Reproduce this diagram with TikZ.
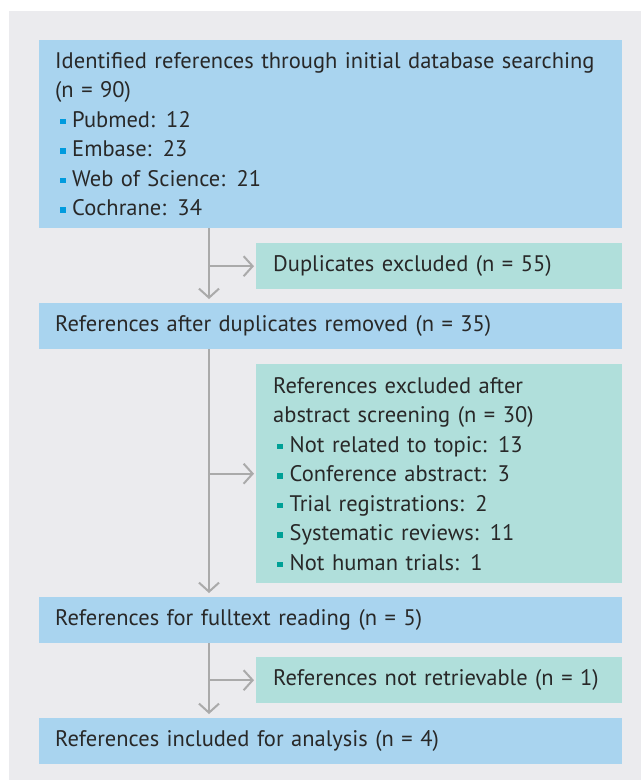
\documentclass[tikz,border=0pt]{standalone}
\usepackage{fontspec}
\setmainfont{PT Sans}[WordSpace={0.72,0.5,0.5}]
\usetikzlibrary{arrows.meta}
\definecolor{bgray}{RGB}{235,235,238}
\definecolor{boxblue}{RGB}{169,212,239}
\definecolor{boxteal}{RGB}{176,223,219}
\definecolor{arrgray}{RGB}{170,170,170}
\definecolor{bulblue}{RGB}{0,155,222}
\definecolor{bulteal}{RGB}{0,160,150}
\definecolor{txt}{RGB}{40,40,40}
\newcommand{\bulb}{\hspace*{5pt}{\color{bulblue}\rule[3pt]{5.5pt}{5.5pt}}\hspace{6.5pt}}
\newcommand{\bult}{\hspace*{4pt}{\color{bulteal}\rule[3pt]{5.5pt}{5.5pt}}\hspace{7pt}}
\newcommand{\boxfont}{\fontsize{22.5}{29.5}\selectfont}
\begin{document}
\begin{tikzpicture}[x=1pt,y=1pt,
  every node/.style={font=\boxfont, text=txt},
  mainbox/.style={anchor=north west, fill=boxblue, inner xsep=16pt, inner ysep=0pt,
    minimum width=583pt, text width=551pt, align=left},
  sidebox/.style={anchor=north west, fill=boxteal, inner xsep=17pt, inner ysep=0pt,
    minimum width=366pt, text width=332pt, align=left},
  arr/.style={draw=arrgray, line width=2pt, -{Straight Barb[length=9pt,width=20pt]}}]
\useasboundingbox (0,0) rectangle (641,-780);
\fill[bgray] (9,-11) rectangle (641,-780);
\node[mainbox, minimum height=188pt] (b1) at (39,-40)
  {Identified references through initial database searching\\
   (n = 90)\\
   \bulb Pubmed: 12\\
   \bulb Embase: 23\\
   \bulb Web of Science: 21\\
   \bulb Cochrane: 34};
\node[sidebox, minimum height=46pt] (d) at (256,-243) {Duplicates excluded (n = 55)};
\node[mainbox, minimum height=46pt] (b2) at (39,-303) {References after duplicates removed (n = 35)};
\node[sidebox, minimum height=219pt] (e) at (256,-364)
  {References excluded after\\
   abstract screening (n = 30)\\
   \bult Not related to topic: 13\\
   \bult Conference abstract: 3\\
   \bult Trial registrations: 2\\
   \bult Systematic reviews: 11\\
   \bult Not human trials: 1};
\node[mainbox, minimum height=46pt] (b3) at (39,-597) {References for fulltext reading (n = 5)};
\node[sidebox, minimum height=46pt, minimum width=365pt] (r) at (256,-657) {References not retrievable (n = 1)};
\node[mainbox, minimum height=46pt] (b4) at (39,-718) {References included for analysis (n = 4)};
\coordinate (tx) at (209,0);
\draw[arr, shorten >=4pt] (b1.south -| tx) -- (b2.north -| tx);
\draw[arr, shorten >=2pt] (d.west -| tx) -- (d.west);
\draw[arr, shorten >=4pt] (b2.south -| tx) -- (b3.north -| tx);
\draw[arr, shorten >=2pt] (e.west -| tx) -- (e.west);
\draw[arr, shorten >=4pt] (b3.south -| tx) -- (b4.north -| tx);
\draw[arr, shorten >=2pt] (r.west -| tx) -- (r.west);
\end{tikzpicture}
\end{document}
